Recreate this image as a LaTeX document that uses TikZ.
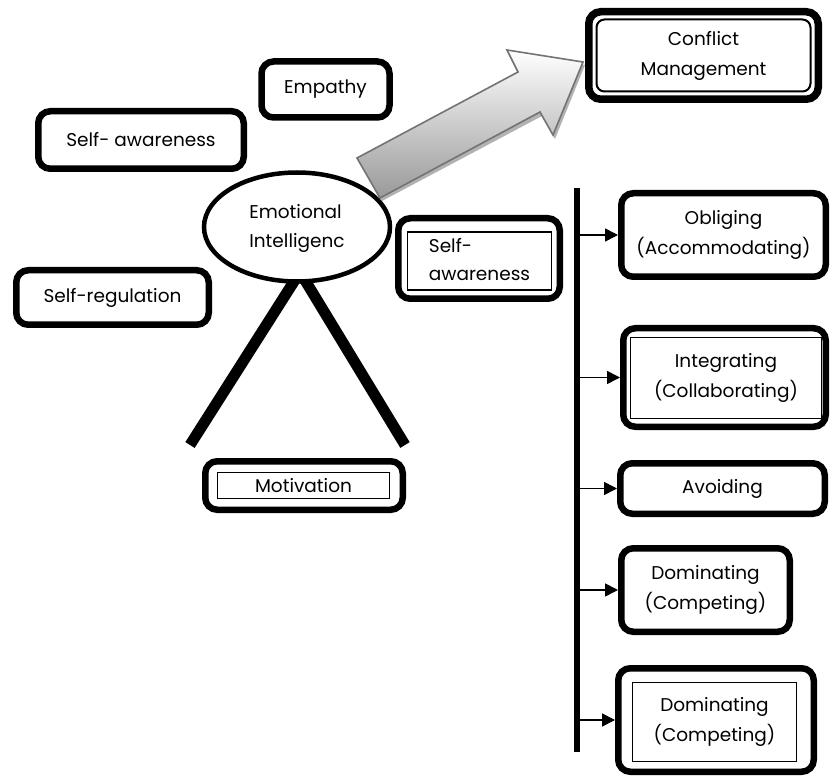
\documentclass[tikz,border=0pt]{standalone}
\usepackage{fontspec}
\setmainfont{Poppins}
\usetikzlibrary{shapes.geometric,arrows.meta,calc}
\begin{document}
\begin{tikzpicture}[x=1pt,y=-1pt,
  font=\fontsize{18.5}{30}\selectfont,
  box/.style={draw, line width=6.5pt, rounded corners=12pt, fill=white, align=center, inner sep=0pt},
  innerbox/.style={draw, line width=1.2pt, fill=white, align=center, inner sep=0pt},
  arr/.style={line width=1.6pt, -{Triangle[length=13pt,width=13pt]}},
  leg/.style={line width=11pt},
]
\useasboundingbox (0,0) rectangle (831,778);
\fill[white] (0,0) rectangle (831,778);

% big block arrow
\fill[black!30] (382,201) -- (359,161) -- (520,75) -- (509,53) -- (585,65) -- (555,139) -- (542,116) -- cycle;
\shadedraw[top color=white, bottom color=black!40, draw=black!55, line width=1.6pt]
  (380,198) -- (357,158) -- (518,72) -- (507,50) -- (583,62) -- (553,135) -- (540,112) -- cycle;

% legs under the ellipse
\coordinate (apex) at (300,272);
\coordinate (lend) at (190,445);
\coordinate (rend) at (405,445);
\draw[leg] (apex) -- (lend);
\draw[leg] (apex) -- (rend);

% ellipse
\node[draw, ellipse, line width=4.5pt, fill=white, minimum width=186pt, minimum height=109pt, inner sep=0pt, align=left] (ei) at (297,227) {\raisebox{-5pt}{\begin{tabular}{@{}l@{}}Emotional\\[-1pt]Intelligenc\end{tabular}}};

% left-side boxes
\node[box, minimum width=128pt, minimum height=56pt] (emp) at (325.5,89.5) {Empathy};
\node[box, minimum width=205.5pt, minimum height=57.5pt] (sa1) at (141,140) {Self- awareness};
\node[box, minimum width=192.5pt, minimum height=54.5pt] (sr) at (112.5,297.5) {Self-regulation};

% middle self-awareness
\node[box, minimum width=161.5pt, minimum height=80.5pt] (sa2) at (479,258.5) {};
\node[innerbox, minimum width=144pt, minimum height=55pt] (sa2in) at (479.5,261) {\raisebox{-6pt}{\begin{tabular}{@{}l@{}}Self-\\[-2pt]awareness\end{tabular}}};

% motivation
\node[box, minimum width=197.5pt, minimum height=48.5pt] (mot) at (304,485.5) {};
\node[innerbox, minimum width=172pt, minimum height=26pt] (motin) at (303.5,485.5) {Motivation};

% conflict management
\node[box, line width=7.5pt, minimum width=229.5pt, minimum height=87.5pt] (cm) at (703.5,55.5) {};
\node[draw, line width=2pt, rounded corners=8pt, minimum width=214pt, minimum height=72pt, align=center, inner sep=0pt] (cmin) at (703.5,55.5) {Conflict\\Management};

% vertical bar
\coordinate (vt) at (577,188);
\coordinate (vb) at (577,752);
\draw[line width=5.5pt] (vt) -- (vb);

% right boxes
\node[box, minimum width=204.5pt, minimum height=83.5pt] (ob) at (723.5,235) {Obliging\\(Accommodating)};
\node[box, minimum width=202.5pt, minimum height=98.5pt] (ig) at (724.5,377.5) {};
\node[innerbox, minimum width=191pt, minimum height=81pt] (igin) at (726,378) {Integrating\\(Collaborating)};
\node[box, minimum width=204.5pt, minimum height=50.5pt] (av) at (722.5,488.5) {Avoiding};
\node[box, minimum width=168.5pt, minimum height=83.5pt] (d1) at (705.5,590) {Dominating\\(Competing)};
\node[box, minimum width=195.5pt, minimum height=103.5pt] (d2) at (716,720) {};
\node[innerbox, minimum width=164pt, minimum height=79pt] (d2in) at (714.5,722) {Dominating\\(Competing)};

% arrows from bar
\draw[arr] (ob.west -| vt) -- (ob.west);
\draw[arr] (ig.west -| vt) -- (ig.west);
\draw[arr] (av.west -| vt) -- (av.west);
\draw[arr] (d1.west -| vt) -- (d1.west);
\draw[arr] (d2.west -| vt) -- (d2.west);
\end{tikzpicture}
\end{document}
